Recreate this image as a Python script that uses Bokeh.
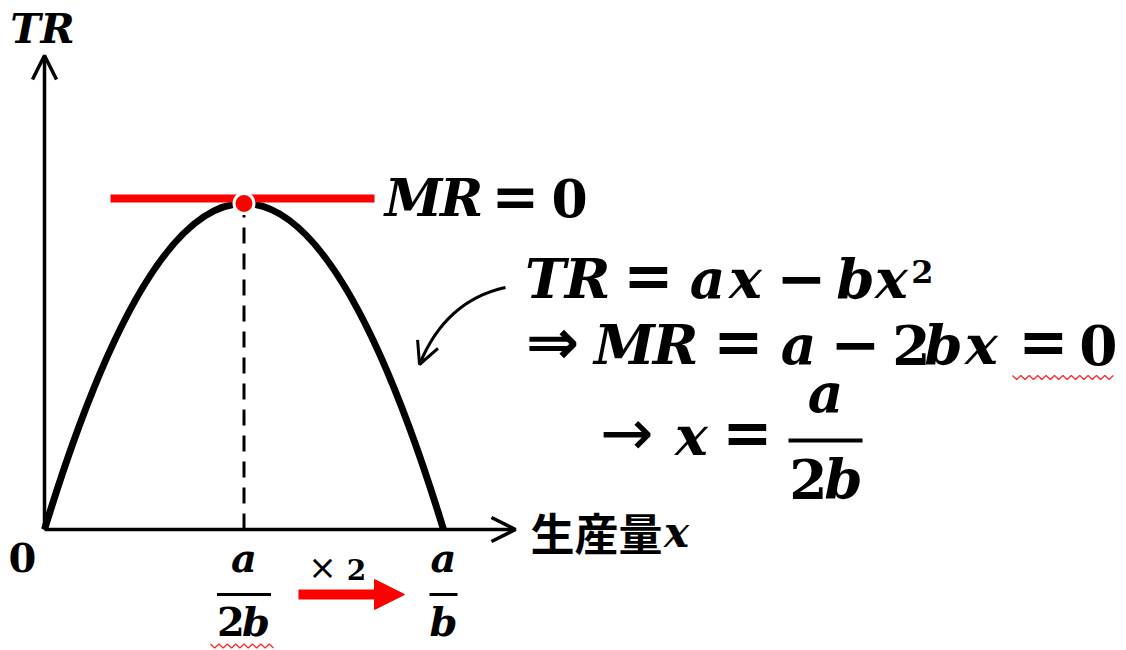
from bokeh.plotting import figure
from bokeh.models import Range1d, Arrow, OpenHead, NormalHead
from bokeh.embed import file_html
from bokeh.resources import INLINE
from bokeh.core.properties import value

# ---------------- data ----------------
x_points = [0.0, 1.0, 2.0]        # output: 0, a/2b, a/b
tr_points = [0.0, 1.0, 0.0]       # total revenue at those outputs
x_tick_num = ["0", "a", "a"]      # tick labels (numerator / single)
x_tick_den = ["", "2b", "b"]      # tick labels (denominator)
y_axis_title = "TR"
x_axis_title = "生産量"
x_axis_var = "x"

# ---------------- layout helpers ----------------
W, H = 1126, 650
OX, OY = 44, 529          # origin in page pixels
SX, SY = 199.5, 326.0     # pixels per data unit
BASE_FIX = 0.40           # em shift so that y is the visual baseline


def dx(px):
    return (px - OX) / SX


def dy(py):
    return (OY - py) / SY


p = figure(width=W, height=H, output_backend="svg", toolbar_location=None,
           x_range=Range1d(-OX / SX, (W - OX) / SX),
           y_range=Range1d((OY - H) / SY, OY / SY),
           x_axis_location=None, y_axis_location=None,
           min_border=0, outline_line_color=None, background_fill_color="white",
           border_fill_color="white")
p.grid.grid_line_color = None

SERIF = "DejaVu Serif"
SANS = "DejaVu Sans"
CJK = "Noto Sans CJK JP"


def txt(px, base, s, size, style="bold italic", font=SERIF, align="center"):
    p.text(x=[dx(px)], y=[dy(base - BASE_FIX * size)], text=[s], text_font=value(font),
           text_font_size=f"{size}px", text_font_style=style,
           text_align=align, text_baseline="alphabetic", text_color="black")


def token(cx, base, s, kind, size):
    """kind: v = variable (bold italic), n = number (bold), o = operator."""
    if kind == "v":
        txt(cx, base, s, size)
    elif kind == "n":
        txt(cx, base, s, size, style="bold")
    else:
        osz = int(size * 1.1)
        center = base - 0.34 * size
        txt(cx, center + 0.31 * osz, s, osz, style="bold", font=SANS)


def squiggle(x_left, x_right, y_mid, step=4.2, amp=2.0):
    xs, ys = [], []
    k = 0
    xx = x_left
    while xx <= x_right:
        xs.append(dx(xx))
        ys.append(dy(y_mid + (amp if k % 2 else -amp)))
        xx += step
        k += 1
    p.line(xs, ys, line_color="#ff2a2a", line_width=1.3)


# axes with open arrow heads
p.add_layout(Arrow(x_start=0, y_start=0, x_end=0, y_end=dy(55),
                   line_width=3.5, line_color="black",
                   end=OpenHead(size=24, line_width=3.5, line_color="black")))
p.add_layout(Arrow(x_start=0, y_start=0, x_end=dx(515), y_end=0,
                   line_width=3.5, line_color="black",
                   end=OpenHead(size=24, line_width=3.5, line_color="black")))

# TR curve (quadratic through the three points)
cy = 2 * tr_points[1] - (tr_points[0] + tr_points[2]) / 2
p.quadratic(x0=[x_points[0]], y0=[tr_points[0]], x1=[x_points[2]], y1=[tr_points[2]],
            cx=[x_points[1]], cy=[cy], line_width=7, line_color="black")

# dashed drop line at the peak
p.segment(x0=[x_points[1]], y0=[0], x1=[x_points[1]], y1=[tr_points[1]],
          line_width=3, line_color="black", line_dash="16 10")

# MR = 0 tangent line
p.segment(x0=[dx(110)], y0=[dy(198)], x1=[dx(374)], y1=[dy(198)],
          line_width=8, line_color="#ff0000")
p.scatter(x=[x_points[1]], y=[tr_points[1]], size=20, fill_color="#ff0000",
          line_color="white", line_width=3)

# curved pointer arrow
p.quadratic(x0=[dx(505)], y0=[dy(287)], x1=[dx(419)], y1=[dy(364)],
            cx=[dx(445)], cy=[dy(300)], line_width=3, line_color="black")
p.add_layout(Arrow(x_start=dx(421.6), y_start=dy(357.6), x_end=dx(419), y_end=dy(364),
                   line_width=3, line_color="black",
                   end=OpenHead(size=22, line_width=3, line_color="black")))

# axis titles
token(25, 45, y_axis_title[0], "v", 41)
token(57, 45, y_axis_title[1], "v", 41)
p.text(x=[dx(530)], y=[dy(531)], text=[x_axis_title], text_font=value(CJK),
       text_font_size="44px", text_font_style="bold", text_align="left",
       text_baseline="middle", text_color="black")
token(676, 549, x_axis_var, "v", 42)

# tick labels
token(22, 573, x_tick_num[0], "n", 40)
for i in (1, 2):
    xc = x_points[i]
    pxc = OX + xc * SX
    half = 27 if i == 1 else 14
    token(pxc, 573, x_tick_num[i], "v", 40)
    p.segment(x0=[dx(pxc - half)], y0=[dy(594)], x1=[dx(pxc + half)], y1=[dy(594)],
              line_width=3, line_color="black")
    if x_tick_den[i] == "2b":
        token(pxc - 13, 637, "2", "n", 40)
        token(pxc + 12, 637, "b", "v", 40)
    else:
        token(pxc, 637, x_tick_den[i], "v", 40)

# x2 red arrow
txt(322, 580, "×", 34, style="normal", font=SANS)
txt(356, 580, "2", 28, style="bold")
p.add_layout(Arrow(x_start=dx(298), y_start=dy(594), x_end=dx(404), y_end=dy(594),
                   line_width=10, line_color="#ff0000",
                   end=NormalHead(size=30, fill_color="#ff0000", line_color="#ff0000",
                                  line_width=1)))

# MR = 0 label
for cx_, s, k in [(413, "M", "v"), (461, "R", "v"), (515, "=", "o"), (569, "0", "n")]:
    token(cx_, 218, s, k, 52)

# equations
line1 = [(545, "T", "v"), (587, "R", "v"), (648, "=", "o"), (707, "a", "v"),
         (745, "x", "v"), (801, "−", "o"), (855, "b", "v"), (891, "x", "v")]
for cx_, s, k in line1:
    token(cx_, 300, s, k, 55)
token(922, 284, "2", "n", 32)

line2 = [(624, "M", "v"), (675, "R", "v"), (738, "=", "o"),
         (798, "a", "v"), (855, "−", "o"), (911, "2", "n"), (943, "b", "v"),
         (981, "x", "v"), (1043, "=", "o"), (1098, "0", "n")]
for cx_, s, k in line2:
    token(cx_, 366, s, k, 55)
txt(552, 366 - 0.34 * 55 + 0.31 * 64, "⇒", 64, style="bold", font=SANS)

txt(626, 457 - 0.34 * 55 + 0.31 * 64, "→", 64, style="normal", font=SANS)
for cx_, s, k in [(691, "x", "v"), (747, "=", "o")]:
    token(cx_, 457, s, k, 55)
p.segment(x0=[dx(788)], y0=[dy(440)], x1=[dx(862)], y1=[dy(440)],
          line_width=4, line_color="black")
token(825, 414, "a", "v", 55)
token(808, 500, "2", "n", 55)
token(843, 500, "b", "v", 55)

# spell-check style red wavy underlines
squiggle(1012, 1117, 377)
squiggle(210, 277, 645.5)

open("out.html", "w").write(file_html(p, INLINE))
